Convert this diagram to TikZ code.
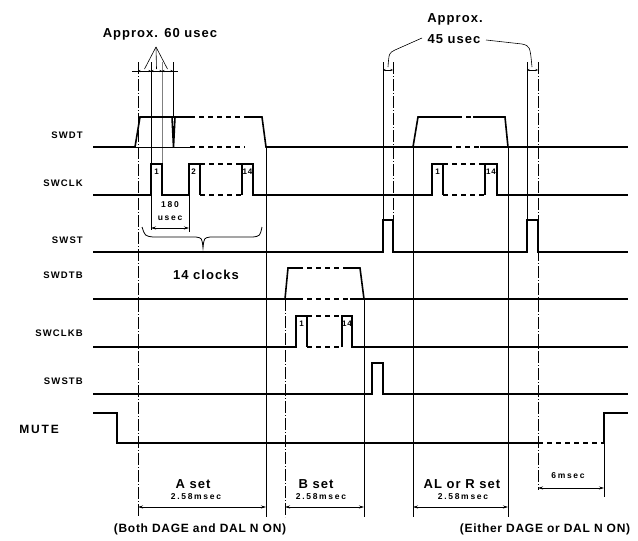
\documentclass[tikz,border=0pt]{standalone}
\usepackage{fontspec}
\setmainfont{Liberation Sans}[LetterSpace=8]
\usetikzlibrary{arrows.meta}
\newcommand{\lsp}[1]{\addfontfeatures{LetterSpace=#1}}
\begin{document}
\begin{tikzpicture}[x=1pt,y=-1pt,
 sig/.style={line width=1.6pt, line join=miter},
 sigd/.style={line width=1.3pt, dash pattern=on 5pt off 4pt},
 guide/.style={line width=0.6pt},
 guidedd/.style={line width=0.6pt, dash pattern=on 12pt off 2pt on 1pt off 2pt},
 dim/.style={line width=0.6pt, {Stealth[length=5pt,width=3pt]}-{Stealth[length=5pt,width=3pt]}},
 tinydim/.style={line width=0.5pt, {Stealth[length=2.5pt,width=2pt]}-{Stealth[length=2.5pt,width=2pt]}},
 big/.style={font=\fontsize{13}{15}\selectfont\bfseries\lsp{8}, inner sep=0pt},
 bot/.style={font=\fontsize{12}{14}\selectfont\bfseries\lsp{6}, inner sep=0pt},
 sm/.style={font=\fontsize{8.5}{10}\selectfont\bfseries\lsp{20}, inner sep=0pt},
 lbl/.style={font=\fontsize{9.5}{11}\selectfont\bfseries\lsp{12}, anchor=east, inner sep=0pt},
 num/.style={font=\fontsize{8}{9}\selectfont\bfseries, inner sep=0pt}
]
\fill[white] (0,0) rectangle (638,541);
\useasboundingbox (0,0) rectangle (638,541);

% ---------- labels ----------
\node[lbl] (lswdt) at (83,135) {SWDT};
\node[lbl] (lswclk) at (83,183) {SWCLK};
\node[lbl] (lswst) at (83,240) {SWST};
\node[lbl] (lswdtb) at (83,275) {SWDTB};
\node[lbl] (lswclkb) at (83,333) {SWCLKB};
\node[lbl] (lswstb) at (83,381) {SWSTB};
\node[anchor=east, inner sep=0pt, font=\fontsize{12}{14}\selectfont\bfseries\lsp{15}] (lmute) at (59,429) {MUTE};

% ---------- guide lines ----------
\draw[guidedd] (138,62) -- (138,517);
\draw[guide] (151,62) -- (151,230);
\draw[guide, gray] (162,62) -- (162,195);
\draw[guide] (173,62) -- (173,117);
\draw[guide] (189,195) -- (189,232);
\draw[guide] (266,147) -- (266,517);
\draw[guidedd] (285,299) -- (285,517);
\draw[guide] (364,299) -- (364,517);
\draw[guide] (383,62) -- (383,220);
\draw[guidedd] (393,62) -- (393,252);
\draw[guide] (413,147) -- (413,517);
\draw[guide] (508,147) -- (508,517);
\draw[guide] (527,62) -- (527,220);
\draw[guidedd] (538,62) -- (538,490);
\draw[guide] (604,443) -- (604,497);

% ---------- SWDT ----------
\draw[sig] (93,147) -- (135,147) -- (140,117) -- (190,117);
\draw[sigd] (190,117) -- (247,117);
\draw[sig] (247,117) -- (262,117) -- (266,147) -- (447,147);
\draw[sig] (172,117) -- (173.5,147) -- (175,117);
\draw[line width=0.8pt] (135,147) -- (190,147);
\draw[sigd] (190,147) -- (245,147);
\draw[sig] (413,147) -- (418,117) -- (457,117);
\draw[sigd] (457,117) -- (473,117);
\draw[sig] (473,117) -- (505,117) -- (508,147);
\draw[sigd] (447,147) -- (480,147);
\draw[sig] (480,147) -- (628,147);

% ---------- SWCLK ----------
\draw[sig] (93,195) -- (151,195) -- (151,164) -- (162,164) -- (162,195) -- (189,195) -- (189,164) -- (200,164) -- (200,195);
\draw[sigd] (200,164) -- (242,164);
\draw[sigd] (200,195) -- (242,195);
\draw[sig] (242,195) -- (242,164) -- (253,164) -- (253,195) -- (432,195) -- (432,164) -- (443,164) -- (443,195);
\draw[sigd] (443,164) -- (485,164);
\draw[sigd] (443,195) -- (485,195);
\draw[sig] (485,195) -- (485,164) -- (497,164) -- (497,195) -- (628,195);
\node[num] (c1) at (156.5,172) {1};
\node[num] (c2) at (193.5,172) {2};
\node[num] (c14) at (247.5,172) {14};
\node[num] (c1b) at (437.5,172) {1};
\node[num] (c14b) at (491,172) {14};

% ---------- SWST ----------
\draw[sig] (93,252) -- (383,252) -- (383,220) -- (393,220) -- (393,252) -- (527,252) -- (527,220) -- (538,220) -- (538,252) -- (628,252);

% ---------- SWDTB ----------
\draw[sig] (93,299) -- (298,299);
\draw[sigd] (298,299) -- (350,299);
\draw[sig] (350,299) -- (628,299);
\draw[sig] (285,299) -- (288,268) -- (298,268);
\draw[sigd] (298,268) -- (348,268);
\draw[sig] (348,268) -- (360,268) -- (364,299);

% ---------- SWCLKB ----------
\draw[sig] (93,347) -- (296,347) -- (296,316) -- (307,316) -- (307,347);
\draw[sigd] (307,316) -- (342,316);
\draw[sigd] (307,347) -- (342,347);
\draw[sig] (342,347) -- (342,316) -- (352,316) -- (352,347) -- (628,347);
\node[num] (d1) at (301.5,324) {1};
\node[num] (d14) at (347,324) {14};

% ---------- SWSTB ----------
\draw[sig] (93,394) -- (372,394) -- (372,363) -- (383,363) -- (383,394) -- (628,394);

% ---------- MUTE ----------
\draw[sig] (93,413) -- (117,413) -- (117,443) -- (538,443);
\draw[sigd] (538,443) -- (604,443);
\draw[sig] (604,443) -- (604,413) -- (628,413);

% ---------- Approx 60 usec ----------
\node[big] (t60) at (160,34) {Approx. 60 usec};
\coordinate (apex) at (156,47);
\draw[guide] (132,71) -- (178,71);
\draw[tinydim] (138,71) -- (151,71);
\draw[tinydim] (151,71) -- (162,71);
\draw[tinydim] (162,71) -- (173,71);
\draw[guide] (apex) -- (144.5,69);
\draw[guide] (apex) -- (156.5,69);
\draw[guide] (apex) -- (167.5,69);

% ---------- 180 usec ----------
\node[sm] (t180) at (170,205) {180};
\node[sm] (tus) at (170,218) {usec};
\draw[dim] (151,228) -- (189,228);

% ---------- brace 14 clocks ----------
\draw[line width=0.8pt] (142,227) .. controls (145,236) .. (153,237) -- (196,237) .. controls (202,238) .. (203,248) .. controls (204,238) .. (210,237) -- (253,237) .. controls (260,236) .. (262,227);
\node[big] (t14) at (206,275) {14 clocks};

% ---------- Approx 45 usec ----------
\node[big] (t45a) at (455,19) {Approx.};
\node[big] (t45b) at (454,39) {45 usec};
\draw[guide] (422,38) -- (395,50) .. controls (389,53) .. (388,67);
\draw[guide] (486,40) -- (522,44) .. controls (530,46) .. (532,67);
\draw[tinydim] (383,70) -- (393,70);
\draw[tinydim] (527,70) -- (538,70);

% ---------- bottom dimensions ----------
\draw[dim] (138,507) -- (266,507);
\node[big] (tA) at (193,484) {A set};
\node[sm] (tA2) at (196,497) {2.58msec};
\draw[dim] (285,507) -- (364,507);
\node[big] (tB) at (316,484) {B set};
\node[sm] (tB2) at (321,497) {2.58msec};
\draw[dim] (413,507) -- (508,507);
\node[big] (tAL) at (462,484) {AL or R set};
\node[sm] (tAL2) at (463,497) {2.58msec};
\draw[dim] (538,488) -- (604,488);
\node[sm] (t6) at (568,476) {6msec};

\node[bot] (both) at (200,529) {(Both DAGE and DAL N ON)};
\node[bot] (either) at (545,529) {(Either DAGE or DAL N ON)};
\end{tikzpicture}
\end{document}
